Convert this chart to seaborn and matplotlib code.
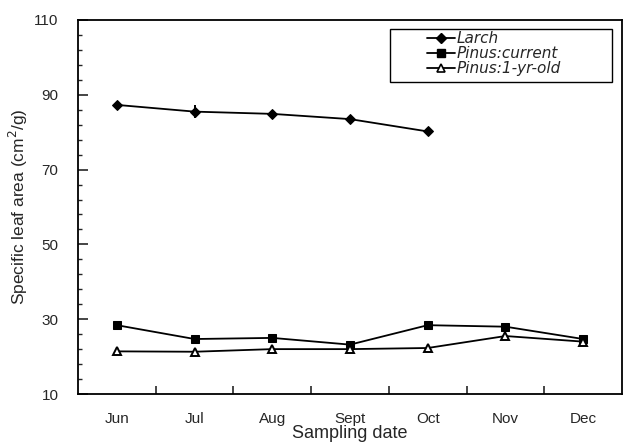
import numpy as np
import pandas as pd
import matplotlib
matplotlib.use("Agg")
import matplotlib.pyplot as plt
import seaborn as sns
from matplotlib.ticker import FixedLocator
from matplotlib.lines import Line2D
from matplotlib.patches import Rectangle

# Sampling months and specific leaf area (cm^2/g)
months = ["Jun", "Jul", "Aug", "Sept", "Oct", "Nov", "Dec"]
larch = [87.3, 85.5, 84.9, 83.5, 80.2]
larch_err = [0.4, 1.7, 0.4, 0.4, 0.4]
pinus_current = [28.4, 24.7, 25.0, 23.2, 28.4, 28.0, 24.7]
pinus_old = [21.4, 21.3, 22.0, 22.0, 22.3, 25.5, 24.0]

series_names = ["Larch", "Pinus:current", "Pinus:1-yr-old"]

df_larch = pd.DataFrame({"pos": np.arange(len(larch)), "sla": larch, "err": larch_err})
df_cur = pd.DataFrame({"pos": np.arange(len(pinus_current)), "sla": pinus_current})
df_old = pd.DataFrame({"pos": np.arange(len(pinus_old)), "sla": pinus_old})

sns.set_theme(style="ticks")
plt.rcParams["font.family"] = ["Liberation Sans", "DejaVu Sans"]

fig = plt.figure(figsize=(6.23, 4.43), dpi=100)
ax = fig.add_axes([78 / 623, 1 - 394 / 443, 544 / 623, 374 / 443])

lw = 1.3
sns.lineplot(data=df_larch, x="pos", y="sla", ax=ax, color="black", lw=lw,
             marker="D", markersize=5.5, markeredgecolor="black", errorbar=None)
ax.errorbar(df_larch["pos"], df_larch["sla"], yerr=df_larch["err"], fmt="none",
            ecolor="black", elinewidth=1.4, capsize=0)
sns.lineplot(data=df_cur, x="pos", y="sla", ax=ax, color="black", lw=lw,
             marker="s", markersize=6, markeredgecolor="black", errorbar=None)
sns.lineplot(data=df_old, x="pos", y="sla", ax=ax, color="black", lw=lw,
             marker="^", markersize=6, markerfacecolor="white",
             markeredgecolor="black", markeredgewidth=1.4, errorbar=None)

ax.set_xlim(-0.5, 6.5)
ax.set_ylim(10, 110)

ax.set_xticks(np.arange(len(months)))
ax.set_xticklabels(months, fontsize=11)
ax.xaxis.set_minor_locator(FixedLocator(np.arange(0.5, len(months) - 1, 1.0)))
ax.tick_params(axis="x", which="major", length=0, pad=13)
ax.tick_params(axis="x", which="minor", direction="in", length=6, width=1.2)

ax.set_yticks(np.arange(10, 111, 20))
ax.tick_params(axis="y", which="major", direction="in", length=7, width=1.2,
               labelsize=11, pad=14)
ax.yaxis.set_minor_locator(FixedLocator(np.arange(10, 111, 4)))
ax.tick_params(axis="y", which="minor", direction="in", length=3, width=1.0)

for s in ax.spines.values():
    s.set_color("black")
    s.set_linewidth(1.3)

ax.set_xlabel("Sampling date", fontsize=13, labelpad=-1)
ax.set_ylabel("Specific leaf area (cm$^{2}$/g)", fontsize=12.5, labelpad=3)

handles = [
    Line2D([], [], color="black", lw=lw, marker="D", markersize=5),
    Line2D([], [], color="black", lw=lw, marker="s", markersize=5.5),
    Line2D([], [], color="black", lw=lw, marker="^", markersize=5.5,
           markerfacecolor="white", markeredgewidth=1.2),
]
leg = ax.legend(handles, series_names, loc="upper left",
                bbox_to_anchor=((427 - 78) / 544, (394 - 31) / 374),
                borderaxespad=0, borderpad=0,
                prop={"family": "DejaVu Sans", "style": "oblique", "size": 11},
                frameon=False, handlelength=1.8,
                labelspacing=0.0, handletextpad=0.15)

# Legend box
x0, x1 = (390 - 78) / 544, (612 - 78) / 544
y0, y1 = (394 - 82) / 374, (394 - 29) / 374
ax.add_patch(Rectangle((x0, y0), x1 - x0, y1 - y0, transform=ax.transAxes,
                       fill=False, edgecolor="black", lw=1.0, zorder=5))

fig.savefig("out.png", dpi=100)
